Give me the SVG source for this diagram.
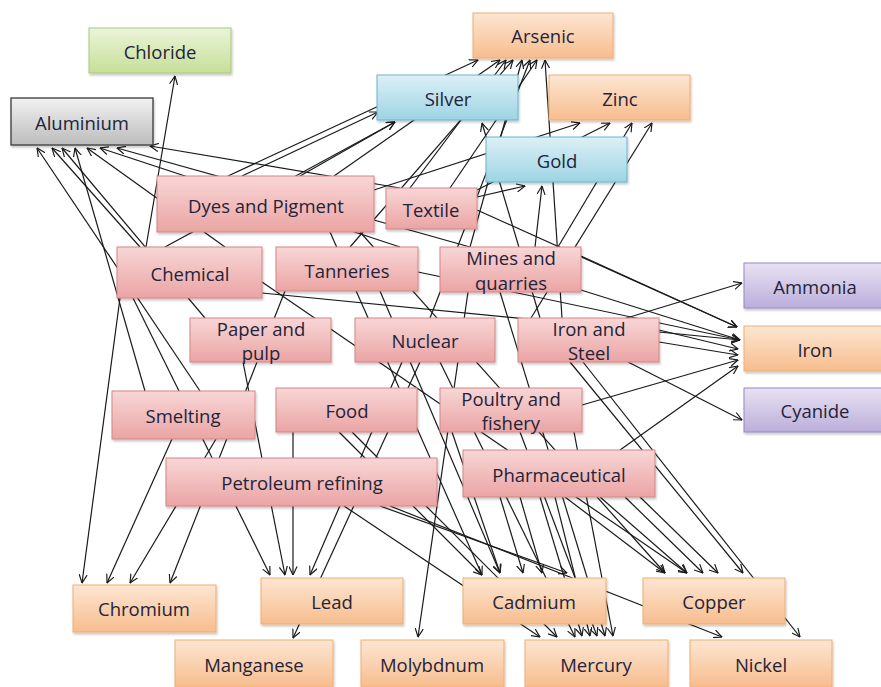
<svg xmlns="http://www.w3.org/2000/svg" width="881" height="687" viewBox="0 0 881 687">
<style>
text{font-family:"Open Sans","Liberation Sans",sans-serif;font-size:18.5px;fill:#23233a;text-anchor:middle;dominant-baseline:central}
.e line{stroke:#1a1a1a;stroke-width:1.2;marker-end:url(#ah)}
rect.n{filter:url(#sh)}
.ind{fill:url(#gR);stroke:#d48585;stroke-width:1}
.met{fill:url(#gO);stroke:#f0ad72;stroke-width:1}
.blu{fill:url(#gB);stroke:#6ab5cb;stroke-width:1}
.grn{fill:url(#gG);stroke:#a9c97c;stroke-width:1}
.gry{fill:url(#gY);stroke:#3a3a3a;stroke-width:1.3}
.pur{fill:url(#gP);stroke:#9a88c4;stroke-width:1}
</style>
<defs>
<filter id="sh" x="-5%" y="-10%" width="112%" height="125%"><feDropShadow dx="1" dy="2" stdDeviation="1.2" flood-color="#000" flood-opacity="0.22"/></filter>
<marker id="ah" viewBox="0 0 10 10" refX="9.5" refY="5" markerWidth="9" markerHeight="9" markerUnits="userSpaceOnUse" orient="auto"><path d="M0,0.5 L9.5,5 L0,9.5" fill="none" stroke="#1a1a1a" stroke-width="1.3"/></marker>
<linearGradient id="gR" x1="0" y1="0" x2="0" y2="1"><stop offset="0" stop-color="#f8d6d6"/><stop offset="1" stop-color="#eba4a4"/></linearGradient>
<linearGradient id="gO" x1="0" y1="0" x2="0" y2="1"><stop offset="0" stop-color="#fde6d2"/><stop offset="1" stop-color="#f7bd8e"/></linearGradient>
<linearGradient id="gB" x1="0" y1="0" x2="0" y2="1"><stop offset="0" stop-color="#dcf0f6"/><stop offset="1" stop-color="#9ed4e4"/></linearGradient>
<linearGradient id="gG" x1="0" y1="0" x2="0" y2="1"><stop offset="0" stop-color="#ebf4da"/><stop offset="1" stop-color="#c6df97"/></linearGradient>
<linearGradient id="gY" x1="0" y1="0" x2="0" y2="1"><stop offset="0" stop-color="#f2f2f2"/><stop offset="1" stop-color="#bcbcbc"/></linearGradient>
<linearGradient id="gP" x1="0" y1="0" x2="0" y2="1"><stop offset="0" stop-color="#e8e2f2"/><stop offset="1" stop-color="#bbaedb"/></linearGradient>
</defs>
<rect width="881" height="687" fill="#ffffff"/>
<g id="connectors" class="e">
<line x1="200" y1="391" x2="37" y2="148"/>
<line x1="140" y1="247" x2="52" y2="148"/>
<line x1="205" y1="318" x2="62" y2="148"/>
<line x1="145" y1="391" x2="75" y2="148"/>
<line x1="225" y1="247" x2="87" y2="148"/>
<line x1="400" y1="247" x2="100" y2="148"/>
<line x1="470" y1="247" x2="117" y2="148"/>
<line x1="400" y1="188" x2="150" y2="146"/>
<line x1="146" y1="247" x2="175" y2="76"/>
<line x1="242" y1="176" x2="378" y2="112"/>
<line x1="300" y1="176" x2="395" y2="122"/>
<line x1="165" y1="247" x2="395" y2="122"/>
<line x1="540" y1="318" x2="482" y2="123"/>
<line x1="228" y1="176" x2="478" y2="60"/>
<line x1="334" y1="176" x2="500" y2="60"/>
<line x1="410" y1="188" x2="506" y2="60"/>
<line x1="350" y1="247" x2="513" y2="60"/>
<line x1="470" y1="247" x2="522" y2="60"/>
<line x1="430" y1="318" x2="530" y2="60"/>
<line x1="450" y1="188" x2="537" y2="60"/>
<line x1="562" y1="318" x2="545" y2="60"/>
<line x1="374" y1="190" x2="580" y2="123"/>
<line x1="477" y1="190" x2="610" y2="123"/>
<line x1="558" y1="247" x2="632" y2="123"/>
<line x1="531" y1="318" x2="652" y2="123"/>
<line x1="477" y1="197" x2="525" y2="186"/>
<line x1="535" y1="247" x2="542" y2="186"/>
<line x1="620" y1="320" x2="742" y2="283"/>
<line x1="477" y1="210" x2="737" y2="327"/>
<line x1="581" y1="256" x2="737" y2="327"/>
<line x1="581" y1="290" x2="740" y2="340"/>
<line x1="262" y1="293" x2="740" y2="340"/>
<line x1="418" y1="272" x2="740" y2="340"/>
<line x1="659" y1="330" x2="738" y2="349"/>
<line x1="659" y1="342" x2="738" y2="355"/>
<line x1="582" y1="405" x2="738" y2="360"/>
<line x1="620" y1="450" x2="738" y2="366"/>
<line x1="628" y1="362" x2="742" y2="420"/>
<line x1="120" y1="298" x2="82" y2="583"/>
<line x1="172" y1="439" x2="107" y2="583"/>
<line x1="216" y1="439" x2="130" y2="583"/>
<line x1="285" y1="291" x2="170" y2="583"/>
<line x1="133" y1="298" x2="270" y2="575"/>
<line x1="243" y1="362" x2="285" y2="575"/>
<line x1="293" y1="432" x2="293" y2="575"/>
<line x1="402" y1="362" x2="310" y2="575"/>
<line x1="420" y1="362" x2="293" y2="638"/>
<line x1="468" y1="292" x2="418" y2="637"/>
<line x1="339" y1="432" x2="482" y2="575"/>
<line x1="452" y1="432" x2="500" y2="573"/>
<line x1="500" y1="497" x2="523" y2="573"/>
<line x1="520" y1="497" x2="542" y2="573"/>
<line x1="380" y1="506" x2="567" y2="573"/>
<line x1="330" y1="232" x2="482" y2="575"/>
<line x1="380" y1="291" x2="500" y2="573"/>
<line x1="344" y1="506" x2="540" y2="637"/>
<line x1="352" y1="432" x2="557" y2="637"/>
<line x1="440" y1="362" x2="575" y2="637"/>
<line x1="540" y1="497" x2="582" y2="636"/>
<line x1="555" y1="497" x2="590" y2="636"/>
<line x1="520" y1="432" x2="597" y2="636"/>
<line x1="500" y1="292" x2="605" y2="636"/>
<line x1="574" y1="432" x2="613" y2="636"/>
<line x1="565" y1="497" x2="665" y2="573"/>
<line x1="360" y1="232" x2="665" y2="573"/>
<line x1="262" y1="282" x2="687" y2="573"/>
<line x1="600" y1="497" x2="687" y2="573"/>
<line x1="625" y1="497" x2="703" y2="573"/>
<line x1="640" y1="497" x2="718" y2="573"/>
<line x1="570" y1="362" x2="743" y2="573"/>
<line x1="390" y1="506" x2="722" y2="637"/>
<line x1="583" y1="362" x2="800" y2="637"/>
</g>
<g id="n-chloride"><rect class="n grn" x="89" y="28" width="142" height="45"/><text x="160" y="51">Chloride</text></g>
<g id="n-aluminium"><rect class="n gry" x="11" y="98" width="142" height="47"/><text x="82" y="122">Aluminium</text></g>
<g id="n-arsenic"><rect class="n met" x="473" y="13" width="140" height="45"/><text x="543" y="35">Arsenic</text></g>
<g id="n-silver"><rect class="n blu" x="377" y="75" width="141" height="45"/><text x="448" y="98">Silver</text></g>
<g id="n-zinc"><rect class="n met" x="549" y="75" width="141" height="45"/><text x="620" y="98">Zinc</text></g>
<g id="n-gold"><rect class="n blu" x="486" y="137" width="141" height="45"/><text x="557" y="160">Gold</text></g>
<g id="n-dyes"><rect class="n ind" x="157" y="176" width="217" height="56"/><text x="266" y="205">Dyes and Pigment</text></g>
<g id="n-textile"><rect class="n ind" x="386" y="188" width="91" height="41"/><text x="431" y="209">Textile</text></g>
<g id="n-chemical"><rect class="n ind" x="117" y="247" width="145" height="51"/><text x="190" y="273">Chemical</text></g>
<g id="n-tanneries"><rect class="n ind" x="276" y="247" width="142" height="44"/><text x="347" y="270">Tanneries</text></g>
<g id="n-mines"><rect class="n ind" x="440" y="247" width="141" height="45"/><text x="511" y="257">Mines and</text><text x="511" y="282">quarries</text></g>
<g id="n-paper"><rect class="n ind" x="190" y="318" width="141" height="44"/><text x="261" y="328">Paper and</text><text x="261" y="352">pulp</text></g>
<g id="n-nuclear"><rect class="n ind" x="355" y="318" width="140" height="44"/><text x="425" y="340">Nuclear</text></g>
<g id="n-ironsteel"><rect class="n ind" x="518" y="318" width="141" height="44"/><text x="589" y="328">Iron and</text><text x="589" y="352">Steel</text></g>
<g id="n-ammonia"><rect class="n pur" x="744" y="263" width="140" height="45"/><text x="815" y="286">Ammonia</text></g>
<g id="n-iron"><rect class="n met" x="744" y="326" width="140" height="45"/><text x="815" y="349">Iron</text></g>
<g id="n-cyanide"><rect class="n pur" x="744" y="388" width="140" height="44"/><text x="815" y="410">Cyanide</text></g>
<g id="n-smelting"><rect class="n ind" x="112" y="391" width="143" height="48"/><text x="183" y="415">Smelting</text></g>
<g id="n-food"><rect class="n ind" x="276" y="388" width="141" height="44"/><text x="347" y="410">Food</text></g>
<g id="n-poultry"><rect class="n ind" x="440" y="388" width="142" height="44"/><text x="511" y="398">Poultry and</text><text x="511" y="422">fishery</text></g>
<g id="n-petroleum"><rect class="n ind" x="166" y="458" width="271" height="48"/><text x="302" y="482">Petroleum refining</text></g>
<g id="n-pharma"><rect class="n ind" x="463" y="450" width="192" height="47"/><text x="559" y="474">Pharmaceutical</text></g>
<g id="n-chromium"><rect class="n met" x="73" y="585" width="143" height="47"/><text x="144" y="608">Chromium</text></g>
<g id="n-lead"><rect class="n met" x="261" y="578" width="142" height="46"/><text x="332" y="601">Lead</text></g>
<g id="n-cadmium"><rect class="n met" x="463" y="578" width="143" height="46"/><text x="534" y="601">Cadmium</text></g>
<g id="n-copper"><rect class="n met" x="643" y="578" width="142" height="46"/><text x="714" y="601">Copper</text></g>
<g id="n-manganese"><rect class="n met" x="175" y="640" width="158" height="47"/><text x="254" y="664">Manganese</text></g>
<g id="n-molybdnum"><rect class="n met" x="361" y="640" width="143" height="47"/><text x="432" y="664">Molybdnum</text></g>
<g id="n-mercury"><rect class="n met" x="525" y="640" width="143" height="47"/><text x="596" y="664">Mercury</text></g>
<g id="n-nickel"><rect class="n met" x="690" y="640" width="142" height="47"/><text x="761" y="664">Nickel</text></g>
</svg>
